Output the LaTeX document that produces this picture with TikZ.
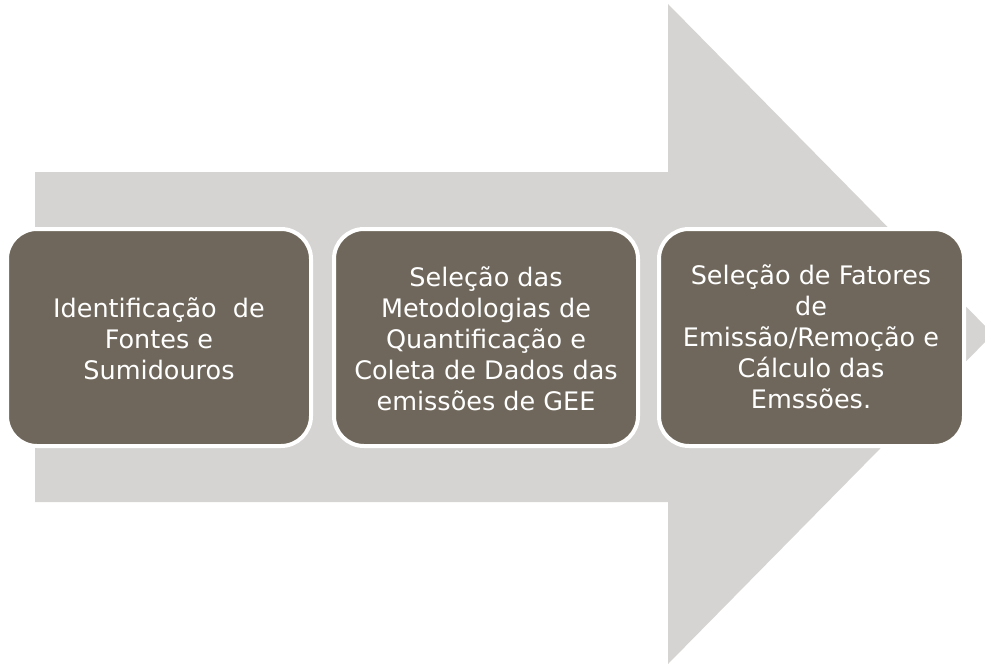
\documentclass[tikz,border=0pt]{standalone}
\usepackage{fontspec}
\setmainfont{DejaVu Sans}
\definecolor{arrowgray}{RGB}{214,212,210}
\definecolor{boxtaupe}{RGB}{111,103,91}
\begin{document}
\begin{tikzpicture}[x=1pt,y=-1pt,
  stagebox/.style={draw=white, line width=4pt, fill=boxtaupe, rounded corners=30pt},
  stagetext/.style={text=white, align=center, font=\fontsize{25.5}{31}\selectfont, inner sep=0pt}]
\useasboundingbox (0,0) rectangle (985,666);
\clip (0,0) rectangle (985,666);
% big arrow
\fill[arrowgray] (35,172) -- (668,172) -- (668,4) -- (993,334) -- (668,664) -- (668,502) -- (35,502) -- cycle;
% boxes
\draw[stagebox] (7,229) rectangle (311,446);
\draw[stagebox] (334,229) rectangle (638,446);
\draw[stagebox] (659,229) rectangle (964,446);
\node[stagetext] (t1) at (159,339) {Identificação\ \ de\\Fontes e\\Sumidouros};
\node[stagetext] (t2) at (486,339) {Seleção das\\Metodologias de\\Quantificação e\\Coleta de Dados das\\emissões de GEE};
\node[stagetext] (t3) at (811,337) {Seleção de Fatores\\de\\Emissão/Remoção e\\Cálculo das\\Emssões.};
\end{tikzpicture}
\end{document}
